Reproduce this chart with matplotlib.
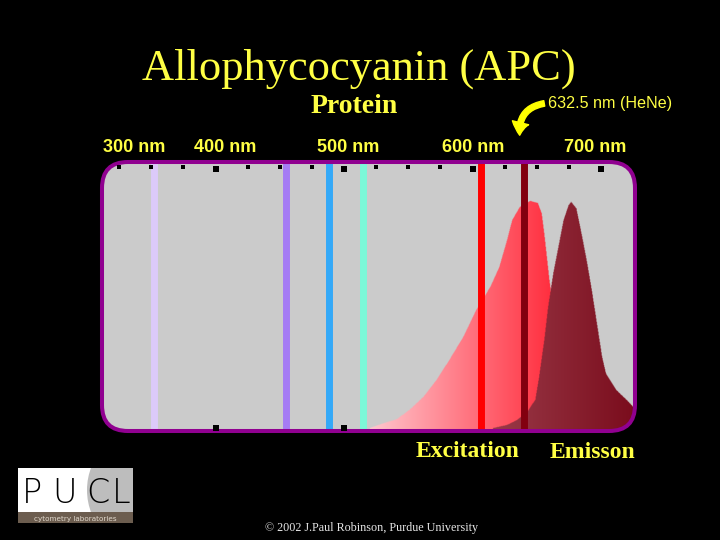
import numpy as np
import matplotlib
matplotlib.use("Agg")
import matplotlib.pyplot as plt
from matplotlib.patches import FancyBboxPatch, FancyArrowPatch, Rectangle, Circle
from matplotlib.colors import to_rgb
from matplotlib.path import Path

# laser lines (nm) and colours
laser_nm = [352, 455, 488, 515, 607, 640]
laser_colors = ["#dccafa", "#a57cf4", "#34a9f8", "#7cf8d8", "#ff0000", "#82000f"]

# APC excitation spectrum (relative)
exc_nm = [520, 531, 541, 551, 562, 572, 582, 593, 603, 614, 621, 627, 631, 637, 645,
          651, 654, 656, 658, 660, 665, 672, 678]
exc_val = [0.003, 0.022, 0.037, 0.073, 0.124, 0.188, 0.265, 0.355, 0.458, 0.547, 0.624,
           0.727, 0.804, 0.855, 0.878, 0.870, 0.830, 0.753, 0.663, 0.573, 0.40, 0.15, 0.0]

# APC emission spectrum (relative)
em_nm = [616, 627, 634, 642, 649, 652, 656, 659, 663, 667, 671, 675, 677, 681, 685,
         689, 693, 697, 701, 704, 712, 720, 725, 740]
em_val = [0.003, 0.015, 0.032, 0.060, 0.112, 0.201, 0.342, 0.470, 0.599, 0.701, 0.804,
          0.862, 0.874, 0.849, 0.753, 0.650, 0.535, 0.407, 0.278, 0.214, 0.150, 0.112,
          0.086, 0.05]

# scale ticks along the panel edge
tick_nm = [325, 350, 375, 400, 425, 450, 475, 500, 525, 550, 575, 600, 625, 650, 675, 700]
big_tick_nm = [400, 500, 600, 700]
bottom_tick_nm = [400, 500]

wl_labels = ["300 nm", "400 nm", "500 nm", "600 nm", "700 nm"]
wl_label_x = [134, 225, 348, 473, 595]

YEL = "#ffff44"
SERIF = "Liberation Serif"
SANS = "Liberation Sans"

fig = plt.figure(figsize=(7.2, 5.4), dpi=100, facecolor="black")

# overlay axes in pixel coordinates
ax = fig.add_axes([0, 0, 1, 1])
ax.set_xlim(0, 720); ax.set_ylim(540, 0)
ax.axis("off")
ax.set_facecolor("black")

panel = FancyBboxPatch((102, 162), 533, 269, boxstyle="round,pad=0,rounding_size=26",
                       facecolor="#cbcbcb", edgecolor="none", zorder=1)
ax.add_patch(panel)

# spectrum axes in nm
sp = fig.add_axes([100 / 720, 1 - 432 / 540, 536 / 720, 270 / 540])
sp.axis("off")
sp.patch.set_alpha(0)


def gradient_area(xs, ys, c_left, c_right, t_span, z):
    verts = [(xs[0], -0.06)] + list(zip(xs, ys)) + [(xs[-1], -0.06)]
    path = Path(verts)
    gx = np.linspace(300, 745, 1100)
    gy = np.linspace(-0.06, 1.05, 700)
    X, Y = np.meshgrid(gx, gy)
    inside = path.contains_points(np.c_[X.ravel(), Y.ravel()]).reshape(X.shape)
    t = np.clip((X - t_span[0]) / (t_span[1] - t_span[0]), 0, 1)[..., None]
    c0, c1 = np.array(to_rgb(c_left)), np.array(to_rgb(c_right))
    rgba = np.zeros(X.shape + (4,))
    rgba[..., :3] = c0 + t * (c1 - c0)
    rgba[..., 3] = inside
    im = sp.imshow(rgba, extent=[gx[0], gx[-1], gy[0], gy[-1]], origin="lower",
                   aspect="auto", interpolation="bilinear", zorder=z)
    im.set_clip_path(panel)


gradient_area(exc_nm, exc_val, "#ffc8cf", "#ff3040", (520, 660), 2)
gradient_area(em_nm, em_val, "#9a3a48", "#7a0c1c", (616, 727), 3)

for nm, c in zip(laser_nm, laser_colors):
    ln = sp.vlines(nm, -0.02, 1.03, colors=c, linewidth=5, zorder=4)
    ln.set_clip_path(panel)

small = [t for t in tick_nm if t not in big_tick_nm]
sp.scatter(small, [1.008] * len(small), marker="s", s=5, color="black", zorder=11, lw=0)
sp.scatter(big_tick_nm, [1.0] * len(big_tick_nm), marker="s", s=14, color="black",
           zorder=11, lw=0)
sp.scatter(bottom_tick_nm, [0.002] * len(bottom_tick_nm), marker="s", s=14,
           color="black", zorder=11, lw=0, clip_on=False)

sp.set_xlim(500 + (100 - 344) / 1.285, 500 + (636 - 344) / 1.285)
sp.set_ylim(-0.0115, 1.027)

border = FancyBboxPatch((102, 162), 533, 269, boxstyle="round,pad=0,rounding_size=26",
                        facecolor="none", edgecolor="#900090", linewidth=2.9,
                        transform=ax.transData, zorder=10, clip_on=False)
sp.add_patch(border)

# texts
ax.text(359, 80, "Allophycocyanin (APC)", color=YEL, family=SERIF, fontsize=32,
        ha="center", va="baseline")
ax.text(354, 113, "Protein", color=YEL, family=SERIF, fontsize=20, fontweight="bold",
        ha="center", va="baseline")
ax.text(548, 108, "632.5 nm (HeNe)", color=YEL, family=SANS, fontsize=11.6,
        ha="left", va="baseline")
for lab, x in zip(wl_labels, wl_label_x):
    ax.text(x, 152, lab, color=YEL, family=SANS, fontsize=13, fontweight="bold",
            ha="center", va="baseline")
ax.text(468, 457, "Excitation", color=YEL, family=SERIF, fontsize=17, fontweight="bold",
        ha="center", va="baseline")
ax.text(592, 458, "Emisson", color=YEL, family=SERIF, fontsize=17, fontweight="bold",
        ha="center", va="baseline")
ax.text(372, 531, "\u00a9 2002 J.Paul Robinson, Purdue University", color="#e8e8e8",
        family=SERIF, fontsize=8.7, ha="center", va="baseline")

arrow = FancyArrowPatch((547, 103), (520, 138), connectionstyle="arc3,rad=0.5",
                        arrowstyle="simple,head_length=0.9,head_width=1.2,tail_width=0.4",
                        mutation_scale=10, color="#ffff00", zorder=5)
ax.add_patch(arrow)

# PUCL logo
ax.add_patch(Rectangle((18, 468), 115, 45, facecolor="white", edgecolor="none", zorder=2))
gray = Circle((150, 490), 63, facecolor="#bdbdbd", edgecolor="none", zorder=3)
ax.add_patch(gray)
gray.set_clip_path(Rectangle((18, 468), 115, 45, transform=ax.transData))
ax.add_patch(Rectangle((18, 512), 115, 11, facecolor="#6c5d4f", edgecolor="none", zorder=4))
for ch, x in zip("PUCL", [32, 65, 98, 121]):
    ax.text(x, 503, ch, color="black", family="DejaVu Sans", fontweight="light",
            fontsize=24, ha="center", va="baseline", zorder=5)
ax.text(75.5, 520.5, "cytometry laboratories", color="#e0d8cc", family="DejaVu Sans",
        fontsize=5.2, ha="center", va="baseline", zorder=5)

fig.savefig("out.png", dpi=100, facecolor="black")
